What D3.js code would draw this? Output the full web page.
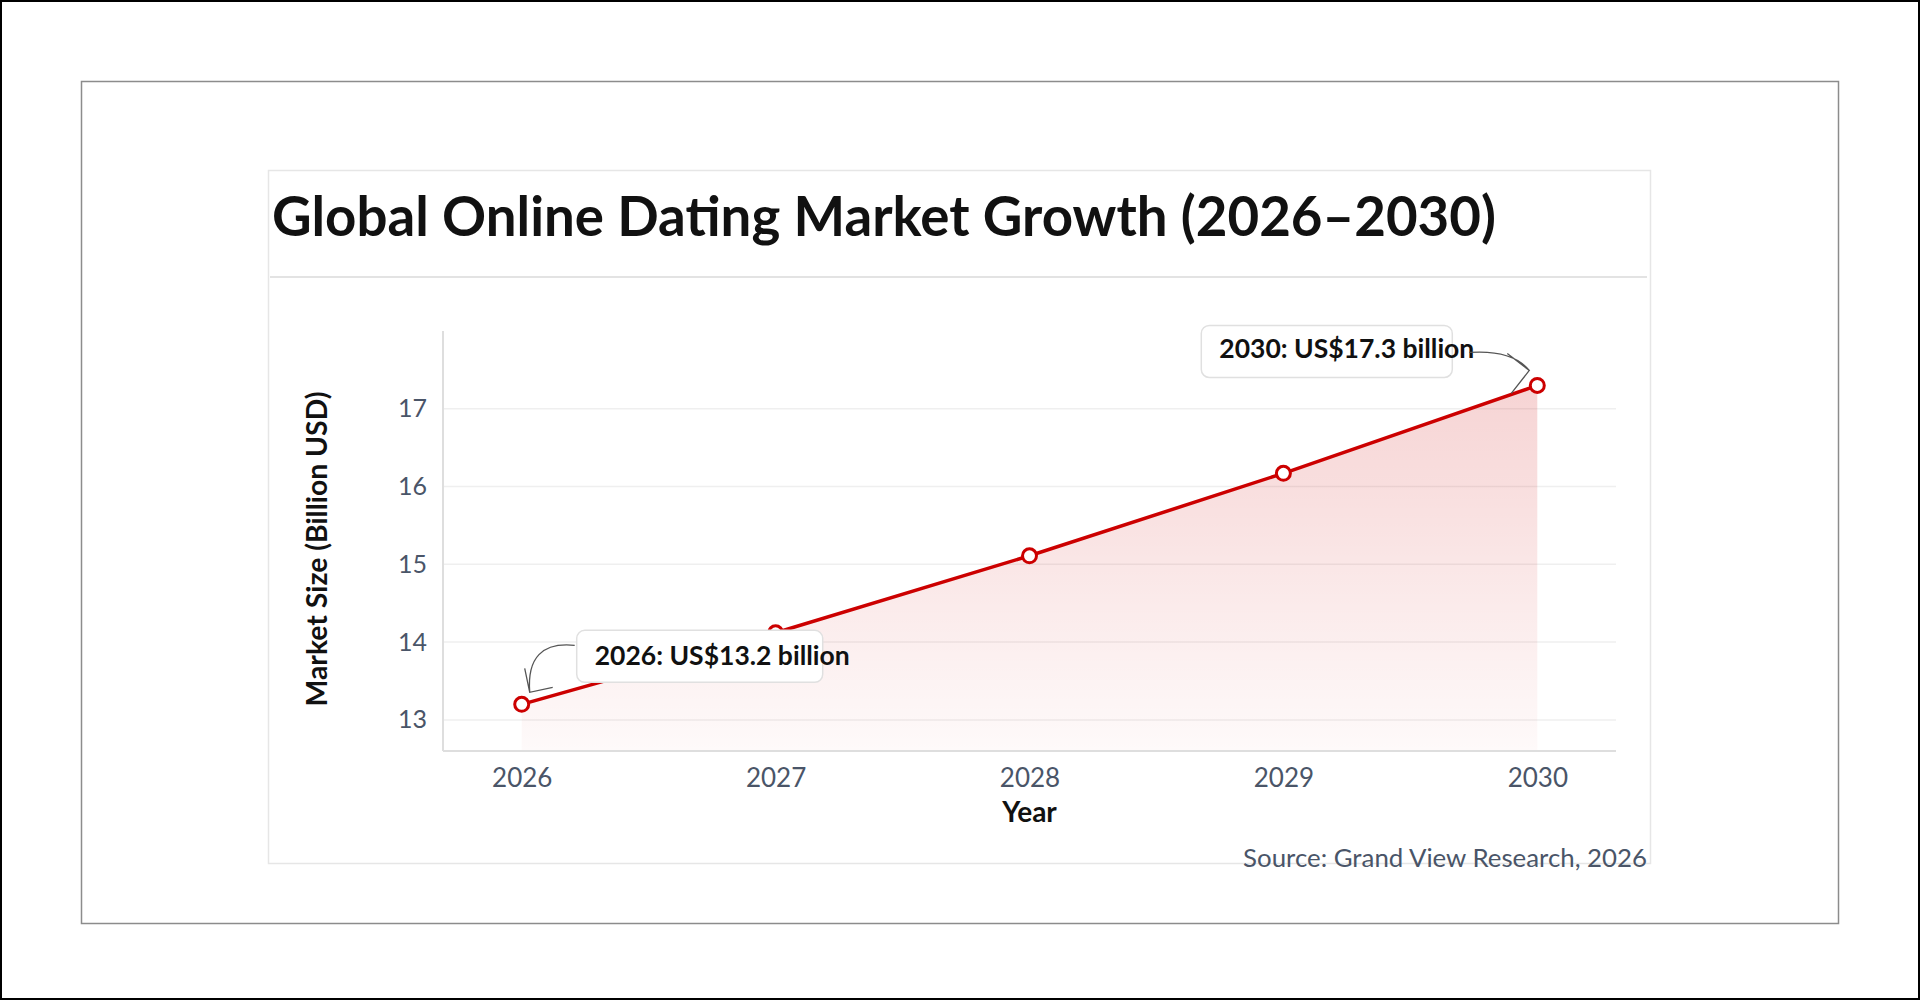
<!DOCTYPE html>
<html><head><meta charset="utf-8">
<script src="https://cdn.jsdelivr.net/npm/d3@7"></script>
<style>
html,body{margin:0;padding:0;background:#fff;}
svg{display:block;font-family:Lato,"Open Sans",sans-serif;}
</style></head>
<body>
<svg id="c" width="1920" height="1000"></svg>
<script>
const years = [2026, 2027, 2028, 2029, 2030];
const values = [13.2, 14.12, 15.11, 16.17, 17.3];
const yTicks = [13, 14, 15, 16, 17];
const titleText = "Global Online Dating Market Growth (2026–2030)";
const yTitle = "Market Size (Billion USD)";
const xTitle = "Year";
const sourceText = "Source: Grand View Research, 2026";
const annoYears = [2026, 2030];
const annoLabels = ["2026: US$13.2 billion", "2030: US$17.3 billion"];

(function(){
const svg = d3.select("#c");
const red = "#cc0000";

// frames
svg.append("rect").attr("x",1).attr("y",1).attr("width",1918).attr("height",998)
  .attr("fill","#fff").attr("stroke","#000").attr("stroke-width",2);
svg.append("rect").attr("x",81.5).attr("y",81.5).attr("width",1757).attr("height",842)
  .attr("fill","#fff").attr("stroke","#8c8c8c").attr("stroke-width",1.5);
svg.append("rect").attr("x",268.5).attr("y",170.5).attr("width",1382).attr("height",693)
  .attr("fill","#fff").attr("stroke","#e6e6e6").attr("stroke-width",1.5);

function fit(sel, target){
  const n = sel.node(); const fs = parseFloat(sel.attr("font-size"));
  const w = n.getComputedTextLength();
  if (w > 0) sel.attr("font-size", (fs*target/w).toFixed(2));
}

const title = svg.append("text").attr("x",272).attr("y",236)
  .attr("font-size",52).attr("font-weight",700).attr("fill","#111").text(titleText);
fit(title, 1224);
svg.append("line").attr("x1",270).attr("x2",1647).attr("y1",277).attr("y2",277)
  .attr("stroke","#e3e3e3").attr("stroke-width",2);

const pLeft=443, pRight=1616, pTop=331, pBottom=751;
const x = d3.scalePoint().domain(years).range([pLeft,pRight]).padding(0.31);
const y = d3.scaleLinear().domain([12.6,18]).range([pBottom,pTop]);

// gridlines
svg.append("g").selectAll("line").data(yTicks).join("line")
  .attr("x1",pLeft).attr("x2",pRight).attr("y1",d=>y(d)).attr("y2",d=>y(d))
  .attr("stroke","#efefef").attr("stroke-width",1.5);

// gradient area
const defs = svg.append("defs");
const grad = defs.append("linearGradient").attr("id","ag").attr("gradientUnits","userSpaceOnUse")
  .attr("x1",0).attr("x2",0).attr("y1",y(d3.max(values))).attr("y2",pBottom);
grad.append("stop").attr("offset","0%").attr("stop-color",red).attr("stop-opacity",0.17);
grad.append("stop").attr("offset","100%").attr("stop-color",red).attr("stop-opacity",0.02);

const data = years.map((yr,i)=>({yr, v:values[i]}));
svg.append("path").datum(data)
  .attr("d", d3.area().x(d=>x(d.yr)).y0(pBottom).y1(d=>y(d.v)))
  .attr("fill","url(#ag)");

// axes
const yAxis = svg.append("g").attr("transform",`translate(${pLeft},0)`)
  .call(d3.axisLeft(y).tickValues(yTicks).tickSize(0).tickPadding(16).tickFormat(d3.format("d")));
yAxis.select(".domain").attr("d",`M0,${pTop}V${pBottom}`).attr("stroke","#dedede").attr("stroke-width",2);
yAxis.selectAll("text").attr("font-size",25).attr("fill","#4a5568").attr("font-family","Lato,sans-serif");

const xAxis = svg.append("g").attr("transform",`translate(0,${pBottom})`)
  .call(d3.axisBottom(x).tickSize(0).tickPadding(18).tickFormat(d3.format("d")));
xAxis.select(".domain").attr("d",`M${pLeft},0H${pRight}`).attr("stroke","#dedede").attr("stroke-width",2);
xAxis.selectAll("text").attr("font-size",26).attr("fill","#4a5568").attr("font-family","Lato,sans-serif");

// axis titles
const yt = svg.append("text").attr("transform","translate(327,549) rotate(-90)").attr("text-anchor","middle")
  .attr("font-size",28).attr("font-weight",700).attr("fill","#111").text(yTitle);
fit(yt, 315);
svg.append("text").attr("x",(pLeft+pRight)/2).attr("y",822).attr("text-anchor","middle")
  .attr("font-size",28).attr("font-weight",700).attr("fill","#111").text(xTitle);

// line + points
svg.append("path").datum(data)
  .attr("d", d3.line().x(d=>x(d.yr)).y(d=>y(d.v)))
  .attr("fill","none").attr("stroke",red).attr("stroke-width",3.5);
svg.append("g").selectAll("circle").data(data).join("circle")
  .attr("cx",d=>x(d.yr)).attr("cy",d=>y(d.v)).attr("r",7)
  .attr("fill","#fff").attr("stroke",red).attr("stroke-width",3);

// annotations
const annoCfg = [
  {box:[55,-74,246,52], text:[73,-39], arrowStart:[53,-59], ctrl:[4,-64], tip:[8,-12], h1:[3,-36], h2:[31,-17]},
  {box:[-336,-60,251,52], text:[-318,-27], arrowStart:[-68,-33], ctrl:[-25,-36], tip:[-8,-15], h1:[-30,-32], h2:[-26,8]}
];
annoYears.forEach((yr,i)=>{
  const v = values[years.indexOf(yr)];
  const px = x(yr), py = y(v), c = annoCfg[i];
  svg.append("rect").attr("x",px+c.box[0]).attr("y",py+c.box[1]).attr("width",c.box[2]).attr("height",c.box[3])
    .attr("rx",8).attr("fill","#fff").attr("stroke","#e0e0e0").attr("stroke-width",1.5);
  const t = svg.append("text").attr("x",px+c.text[0]).attr("y",py+c.text[1])
    .attr("font-size",26).attr("font-weight",700).attr("fill","#111").text(annoLabels[i]);
  fit(t, 255);
  const p = d3.path();
  p.moveTo(px+c.arrowStart[0], py+c.arrowStart[1]);
  p.quadraticCurveTo(px+c.ctrl[0], py+c.ctrl[1], px+c.tip[0], py+c.tip[1]);
  p.moveTo(px+c.h1[0], py+c.h1[1]); p.lineTo(px+c.tip[0], py+c.tip[1]); p.lineTo(px+c.h2[0], py+c.h2[1]);
  svg.append("path").attr("d",p.toString()).attr("fill","none").attr("stroke","#555").attr("stroke-width",1.3);
});

// source
const src = svg.append("text").attr("x",1647).attr("y",867).attr("text-anchor","end")
  .attr("font-size",24).attr("fill","#4a5568").text(sourceText);
fit(src, 404);
})();
</script>
</body></html>
